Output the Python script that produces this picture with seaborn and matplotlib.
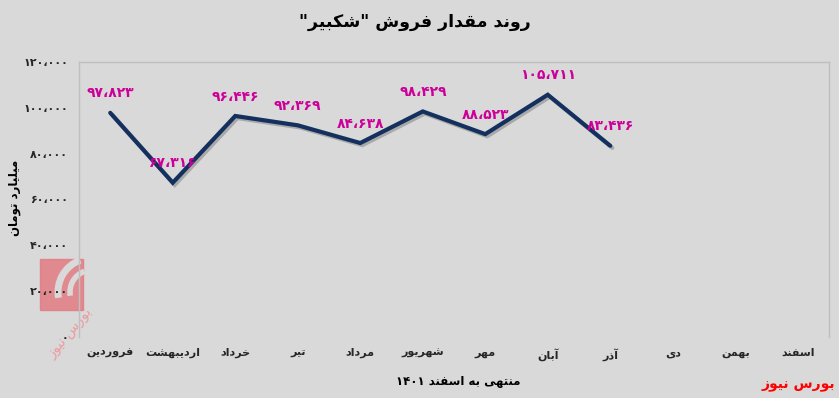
"""
Sales trend chart for "شکبیر" (monthly sales, billion toman).

Matplotlib has no Arabic shaping, so Persian text is shaped by hand
with presentation forms and flipped for right-to-left display.
"""

import re

import matplotlib
matplotlib.use("Agg")
import matplotlib.patheffects as pe
import matplotlib.pyplot as plt
import numpy as np
import pandas as pd
import seaborn as sns
from matplotlib.patches import Arc, Rectangle


# ──────────────────────────────────────────────
# Data
# ──────────────────────────────────────────────

months = ["فروردین", "اردیبهشت", "خرداد", "تیر", "مرداد", "شهریور",
          "مهر", "آبان", "آذر", "دی", "بهمن", "اسفند"]
sales = [97823, 67316, 96446, 92369, 84638, 98429, 88523, 105711, 83436]
y_ticks = [0, 20000, 40000, 60000, 80000, 100000, 120000]

title_text = 'روند مقدار فروش "شکبیر"'
y_label = "میلیارد تومان"
x_label = "منتهی به اسفند ۱۴۰۱"
source_text = "بورس نیوز"


# ──────────────────────────────────────────────
# Persian shaping helpers
# ──────────────────────────────────────────────

# isolated, final, initial, medial (None = does not join to the next letter)
FORMS = {
    "ا": ("\uFE8D", "\uFE8E", None, None),
    "آ": ("\uFE81", "\uFE82", None, None),
    "ب": ("\uFE8F", "\uFE90", "\uFE91", "\uFE92"),
    "ت": ("\uFE95", "\uFE96", "\uFE97", "\uFE98"),
    "خ": ("\uFEA5", "\uFEA6", "\uFEA7", "\uFEA8"),
    "د": ("\uFEA9", "\uFEAA", None, None),
    "ذ": ("\uFEAB", "\uFEAC", None, None),
    "ر": ("\uFEAD", "\uFEAE", None, None),
    "ز": ("\uFEAF", "\uFEB0", None, None),
    "س": ("\uFEB1", "\uFEB2", "\uFEB3", "\uFEB4"),
    "ش": ("\uFEB5", "\uFEB6", "\uFEB7", "\uFEB8"),
    "ف": ("\uFED1", "\uFED2", "\uFED3", "\uFED4"),
    "ق": ("\uFED5", "\uFED6", "\uFED7", "\uFED8"),
    "ل": ("\uFEDD", "\uFEDE", "\uFEDF", "\uFEE0"),
    "م": ("\uFEE1", "\uFEE2", "\uFEE3", "\uFEE4"),
    "ن": ("\uFEE5", "\uFEE6", "\uFEE7", "\uFEE8"),
    "ه": ("\uFEE9", "\uFEEA", "\uFEEB", "\uFEEC"),
    "و": ("\uFEED", "\uFEEE", None, None),
    "ی": ("\uFBFC", "\uFBFD", "\uFBFE", "\uFBFF"),
    "ک": ("\uFB8E", "\uFB8F", "\uFB90", "\uFB91"),
}

FA_DIGITS = str.maketrans("0123456789,", "۰۱۲۳۴۵۶۷۸۹،")


def fa(text: str) -> str:
    """Shape Persian letters and reorder for right-to-left display."""
    out = []
    for i, ch in enumerate(text):
        if ch not in FORMS:
            out.append(ch)
            continue
        prev = text[i - 1] if i > 0 else ""
        nxt = text[i + 1] if i + 1 < len(text) else ""
        iso, fin, ini, med = FORMS[ch]
        joins_prev = prev in FORMS and FORMS[prev][2] is not None
        joins_next = ini is not None and nxt in FORMS
        if joins_prev and joins_next:
            out.append(med)
        elif joins_prev:
            out.append(fin)
        elif joins_next:
            out.append(ini)
        else:
            out.append(iso)
    s = "".join(out)[::-1]
    # numbers keep left-to-right order
    return re.sub(r"[۰-۹،]+", lambda m: m.group(0)[::-1], s)


def fa_num(value: int) -> str:
    return f"{value:,}".translate(FA_DIGITS)


# ──────────────────────────────────────────────
# Figure
# ──────────────────────────────────────────────

sns.set_theme(style="white")
plt.rcParams["font.family"] = ["DejaVu Sans"]

BG = "#d9d9d9"
LINE = "#14305f"
LABEL = "#cc0099"

fig = plt.figure(figsize=(8.39, 3.98), dpi=100, facecolor=BG)
W, H = 839, 398
ax = fig.add_axes([79 / W, 1 - 337 / H, 750 / W, 275 / H])
ax.patch.set_alpha(0)  # figure already carries the grey background

df = pd.DataFrame({"pos": np.arange(len(sales)), "sales": sales})
sns.lineplot(data=df, x="pos", y="sales", ax=ax, color=LINE, lw=3.0)
ax.lines[0].set_path_effects([
    pe.SimpleLineShadow(offset=(1.5, -1.5), alpha=0.25),
    pe.Normal(),
])
ax.lines[0].set_solid_joinstyle("miter")

for x, v in zip(df["pos"], df["sales"]):
    ax.annotate(fa_num(v), (x, v), xytext=(0, 14), textcoords="offset points",
                ha="center", va="center", fontsize=10, fontweight="bold",
                color=LABEL)

ax.set_xlim(-0.5, len(months) - 0.5)
ax.set_ylim(y_ticks[0], y_ticks[-1])
ax.set_xticks(range(len(months)))
ax.set_xticklabels([fa(m) for m in months], fontsize=8, fontweight="bold")
ax.set_yticks(y_ticks)
ax.set_yticklabels([fa_num(t) for t in y_ticks], fontsize=8, fontweight="bold")
ax.tick_params(axis="both", length=0, pad=8)
ax.set_xlabel("")
ax.set_ylabel("")

for side in ["left", "top", "right"]:
    ax.spines[side].set_color("#bfbfbf")
    ax.spines[side].set_linewidth(1.0)
ax.spines["bottom"].set_visible(False)

fig.text(415 / W, 1 - 22 / H, fa(title_text), ha="center", va="center",
         fontsize=12.5, fontweight="bold", color="black")
fig.text(15 / W, 1 - 198 / H, fa(y_label), ha="center", va="center",
         rotation=90, fontsize=8.5, fontweight="bold", color="black")
fig.text(458 / W, 1 - 381 / H, fa(x_label), ha="center", va="center",
         fontsize=8.5, fontweight="bold", color="black")
fig.text(835 / W, 1 - 385 / H, fa(source_text), ha="right", va="center",
         fontsize=10, fontweight="bold", color="red")

# faint watermark logo, drawn under the axes
fig.patches.append(Rectangle((40 / W, 1 - 310 / H), 43 / W, 51 / H,
                             transform=fig.transFigure, color="#e27c83",
                             alpha=0.85, zorder=-2))
for r, lw in [(34, 5), (22, 4)]:
    fig.patches.append(Arc((92 / W, 1 - 292 / H), 2 * r / W, 2 * r / H,
                           theta1=100, theta2=200, transform=fig.transFigure,
                           color=BG, lw=lw, zorder=-1))
fig.text(70 / W, 1 - 333 / H, fa(source_text), ha="center", va="center",
         rotation=50, fontsize=10, color="#eb9ca1", zorder=-1)

fig.savefig("out.png", dpi=100, facecolor=BG)
